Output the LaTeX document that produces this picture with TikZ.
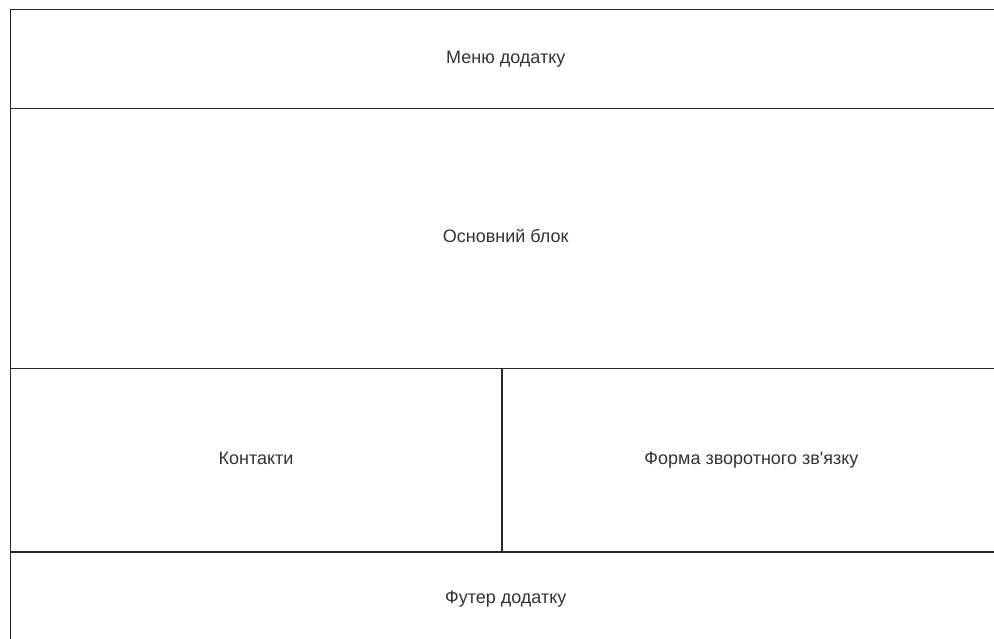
\documentclass[tikz,border=0pt]{standalone}
\usepackage{fontspec}
\setmainfont{Liberation Sans}[Ligatures=TeXOff]
\begin{document}
\begin{tikzpicture}[x=1pt,y=-1pt,
  blockbox/.style={draw=black!85, line width=1.5pt, fill=white, rectangle, anchor=north west,
    inner sep=0pt, text height=13pt, text depth=4pt,
    font=\fontsize{18}{21}\selectfont, text=black!80}]
\useasboundingbox (0,0) rectangle (994,638);
\clip (0,0) rectangle (994,638);
\fill[white] (0,0) rectangle (994,638);
% page layout blocks
\node[blockbox, minimum width=991pt, minimum height=99pt] (menu) at (9.5,8.5) {Меню додатку};
\node[blockbox, minimum width=991pt, minimum height=260pt] (main) at (9.5,107.5) {Основний блок};
\node[blockbox, minimum width=491.5pt, minimum height=183.5pt] (contacts) at (9.5,367.5) {Контакти};
\node[blockbox, minimum width=499.5pt, minimum height=183.5pt] (form) at (501,367.5) {Форма зворотного зв'язку};
\node[blockbox, minimum width=991pt, minimum height=94pt] (footer) at (9.5,551) {Футер додатку};
\end{tikzpicture}
\end{document}
